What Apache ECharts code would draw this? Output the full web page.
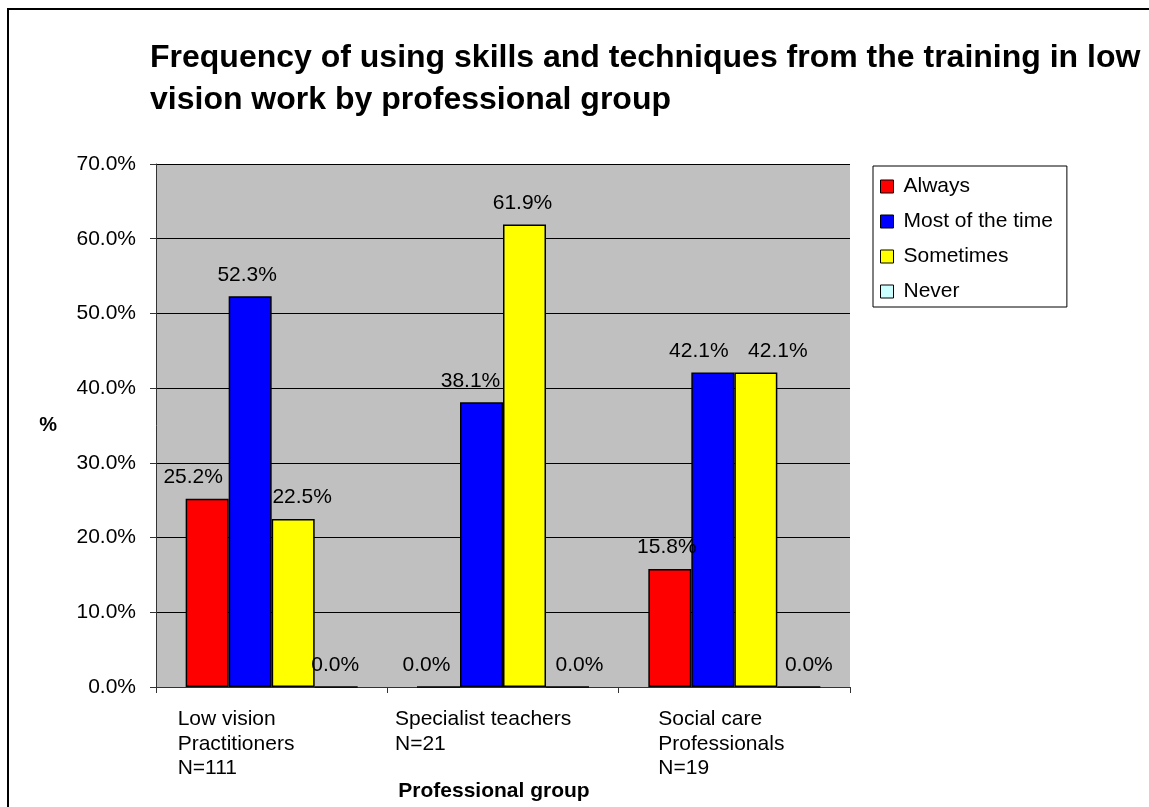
<!DOCTYPE html>
<html>
<head>
<meta charset="utf-8">
<script src="https://cdn.jsdelivr.net/npm/echarts@6/dist/echarts.min.js"></script>
<style>
html,body{margin:0;padding:0;background:#fff;}
#chart{width:1149px;height:807px;}
</style>
</head>
<body>
<div id="chart"></div>
<script>
const categories = ['Low vision\nPractitioners\nN=111', 'Specialist teachers\nN=21', 'Social care\nProfessionals\nN=19'];
const seriesNames = ['Always', 'Most of the time', 'Sometimes', 'Never'];
const always = [25.2, 0.0, 15.8];
const mostOfTheTime = [52.3, 38.1, 42.1];
const sometimes = [22.5, 61.9, 42.1];
const never = [0.0, 0.0, 0.0];
const yTicks = [0, 10, 20, 30, 40, 50, 60, 70];

const colors = ['#FF0000', '#0000FF', '#FFFF00', '#CCFFFF'];
const values = [always, mostOfTheTime, sometimes, never];
// horizontal label shifts (Excel collision layout), style only: [series][category]
const labelShift = [[-14, -12, -3], [-3, -11, -14], [9, -2, 22], [-1, 12, 10]];

const font = 'Liberation Sans, Arial, sans-serif';
const fs = 21;
const chart = echarts.init(document.getElementById('chart'));

const series = seriesNames.map((name, si) => ({
  name: name,
  type: 'bar',
  barWidth: 43,
  barGap: '0%',
  data: values[si].map((v, ci) => ({value: v, label: {offset: [labelShift[si][ci], 0]}})),
  itemStyle: {color: colors[si], borderColor: '#000', borderWidth: 1.5},
  label: {
    show: true, position: 'top', distance: 11,
    fontFamily: font, fontSize: fs, color: '#000',
    formatter: p => p.value.toFixed(1) + '%'
  }
}));

const option = {
  animation: false,
  backgroundColor: '#fff',
  title: {
    text: 'Frequency of using skills and techniques from the training in low\nvision work by professional group',
    left: 150, top: 37, padding: 0,
    textStyle: {fontFamily: font, fontSize: 32, fontWeight: 'bold', color: '#000', lineHeight: 42}
  },
  legend: {
    orient: 'vertical', left: 873, top: 166,
    data: seriesNames,
    icon: 'rect', itemWidth: 13, itemHeight: 13, itemGap: 14,
    padding: [10, 14, 5, 7],
    borderColor: '#000', borderWidth: 1,
    itemStyle: {borderColor: '#000', borderWidth: 1},
    textStyle: {fontFamily: font, fontSize: fs, color: '#000', padding: [0, 0, 0, 5]}
  },
  grid: {left: 156, top: 164, width: 694, height: 523, show: true, backgroundColor: '#C0C0C0', borderWidth: 0},
  xAxis: {
    type: 'category', data: categories,
    name: 'Professional group', nameLocation: 'middle', nameGap: 94,
    nameTextStyle: {fontFamily: font, fontSize: fs, fontWeight: 'bold', color: '#000', padding: [0, 18, 0, 0]},
    axisLine: {lineStyle: {color: '#333', width: 1}},
    axisTick: {show: true, length: 6, lineStyle: {color: '#333'}},
    axisLabel: {show: false}
  },
  yAxis: {
    type: 'value', min: yTicks[0], max: yTicks[yTicks.length - 1], interval: 10,
    name: '%', nameLocation: 'middle', nameGap: 99, nameRotate: 0,
    nameTextStyle: {fontFamily: font, fontSize: 20, fontWeight: 'bold', color: '#000'},
    axisLine: {show: true, lineStyle: {color: '#333', width: 1}},
    axisTick: {show: true, length: 6, lineStyle: {color: '#333'}},
    axisLabel: {fontFamily: font, fontSize: fs, color: '#000', margin: 20, formatter: v => v.toFixed(1) + '%'},
    splitLine: {lineStyle: {color: '#000', width: 1}}
  },
  series: series
};
chart.setOption(option);

// Category labels (left-aligned blocks, as in the original)
const catOffsets = [-94, -108, -76];
const axisY = chart.convertToPixel({yAxisIndex: 0}, 0);
const graphics = [{
  type: 'rect', shape: {x: 8, y: 9, width: 1200, height: 900},
  style: {fill: null, stroke: '#000', lineWidth: 2}, z: 100, silent: true
}];
categories.forEach((c, i) => {
  const cx = chart.convertToPixel({xAxisIndex: 0}, i);
  graphics.push({
    type: 'text', x: cx + catOffsets[i], y: axisY + 20,
    style: {text: c, fontFamily: font, fontSize: fs, fill: '#000', lineHeight: 24.5, align: 'left', verticalAlign: 'top'}
  });
});
chart.setOption({graphic: graphics});
</script>
</body>
</html>
